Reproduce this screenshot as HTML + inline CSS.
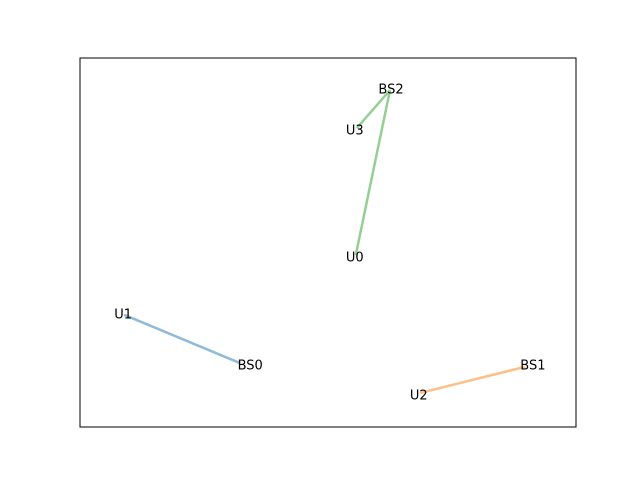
<!DOCTYPE html>
<html><head><meta charset="utf-8"><style>
html,body{margin:0;padding:0;background:#fff;}
svg{display:block;font-family:"DejaVu Sans","Liberation Sans",sans-serif;}
</style></head><body>
<svg id="chart" width="640" height="480">
<rect x="80" y="58" width="496" height="369" fill="#fff" stroke="#000" stroke-width="1"/>
<g id="links"></g><g id="labels"></g>
</svg>
<script>
const nodeNames = ["BS0","BS1","BS2","U0","U1","U2","U3"];
const nodeX = [0.323,0.897,0.625,0.556,0.089,0.685,0.558];
const nodeY = [0.173,0.163,0.913,0.466,0.304,0.092,0.810];
const linkFrom = ["BS0","BS1","BS2","BS2"];
const linkTo = ["U1","U2","U0","U3"];
const linkColors = ["#8fbbd9","#ffbf86","#95cf95","#95cf95"];
// label display offsets (style, px)
const labelStyleOffset = [[10,3],[8,-1],[1,0],[-1,3],[-1,0],[-1,3],[-2,3]];
const X0=80,W=496,Y0=427,H=369;
function sx(v){return X0+v*W;}
function sy(v){return Y0-v*H;}
const NS="http://www.w3.org/2000/svg";
const links=document.getElementById('links'),labels=document.getElementById('labels');
function idx(n){return nodeNames.indexOf(n);}
linkFrom.forEach((f,i)=>{
 const a=idx(f),b=idx(linkTo[i]);
 const l=document.createElementNS(NS,'line');
 l.setAttribute('x1',sx(nodeX[a]));l.setAttribute('y1',sy(nodeY[a]));
 l.setAttribute('x2',sx(nodeX[b]));l.setAttribute('y2',sy(nodeY[b]));
 l.setAttribute('stroke',linkColors[i]);l.setAttribute('stroke-width','2.5');
 
 
 links.appendChild(l);
});
nodeNames.forEach((n,i)=>{
 const t=document.createElementNS(NS,'text');
 t.setAttribute('x',sx(nodeX[i])+labelStyleOffset[i][0]);
 t.setAttribute('y',sy(nodeY[i])+labelStyleOffset[i][1]);
 t.setAttribute('text-anchor','middle');t.setAttribute('dominant-baseline','central');
 t.setAttribute('font-size','13');t.textContent=n;
 
 
 labels.appendChild(t);
});
</script>
</body></html>
